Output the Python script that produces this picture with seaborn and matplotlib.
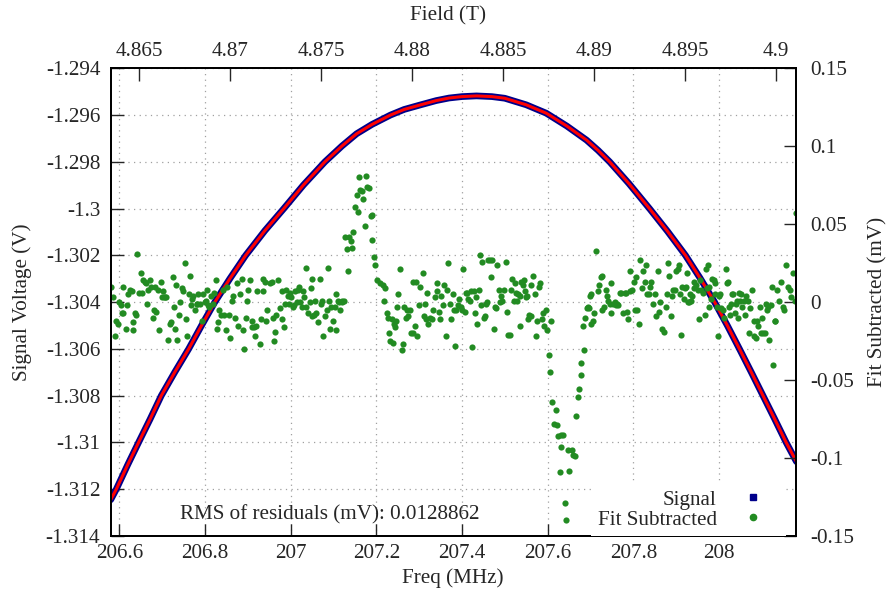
import numpy as np
import pandas as pd
import matplotlib
matplotlib.use('Agg')
import matplotlib.pyplot as plt
from matplotlib.lines import Line2D
from matplotlib.ticker import MultipleLocator, FuncFormatter
import seaborn as sns

# Signal (V) vs frequency (MHz)
signal_freq = [206.580, 206.593, 206.620, 206.645, 206.672, 206.698, 206.730, 206.762,
               206.792, 206.823, 206.858, 206.895, 206.940, 206.984, 207.030, 207.080,
               207.120, 207.154, 207.190, 207.233, 207.265, 207.302, 207.340, 207.370,
               207.400, 207.434, 207.470, 207.500, 207.550, 207.597, 207.645, 207.691,
               207.718, 207.745, 207.790, 207.838, 207.880, 207.922, 207.956, 207.990,
               208.020, 208.048, 208.076, 208.103, 208.130, 208.157, 208.181]
signal_volt = [-1.31245, -1.31200, -1.31094, -1.31000, -1.30900, -1.30800, -1.30698, -1.30600,
               -1.30500, -1.30400, -1.30300, -1.30200, -1.30094, -1.30000, -1.29899, -1.29800,
               -1.29732, -1.29680, -1.29640, -1.29600, -1.29576, -1.29557, -1.29538, -1.29527,
               -1.29521, -1.29518, -1.29521, -1.29528, -1.29556, -1.29592, -1.29647, -1.29707,
               -1.29751, -1.29800, -1.29893, -1.30000, -1.30097, -1.30200, -1.30297, -1.30400,
               -1.30501, -1.30600, -1.30701, -1.30800, -1.30899, -1.31000, -1.31082]

# Residuals (mV), split by region of the sweep
left_freq = [206.580, 206.585, 206.590, 206.592, 206.596, 206.600, 206.603, 206.606, 206.608, 206.609,
             206.616, 206.619, 206.621, 206.625, 206.629, 206.631, 206.633, 206.637, 206.639, 206.642,
             206.647, 206.650, 206.652, 206.656, 206.660, 206.662, 206.665, 206.668, 206.672, 206.673,
             206.678, 206.681, 206.683, 206.686, 206.691, 206.693, 206.697, 206.699, 206.701, 206.704,
             206.707, 206.709, 206.714, 206.718, 206.720, 206.725, 206.728, 206.730, 206.732, 206.735,
             206.739, 206.742, 206.746, 206.748, 206.753, 206.756, 206.759, 206.762, 206.765, 206.767,
             206.769, 206.773, 206.777, 206.781, 206.782, 206.784, 206.788, 206.792, 206.796, 206.800,
             206.802, 206.805, 206.808, 206.810, 206.813, 206.818, 206.821, 206.826, 206.827, 206.831,
             206.833, 206.837, 206.841, 206.844, 206.849, 206.852, 206.855, 206.858, 206.862, 206.866,
             206.870, 206.874, 206.878, 206.882, 206.886, 206.889, 206.891, 206.896, 206.899, 206.901,
             206.905, 206.909, 206.911, 206.914, 206.917, 206.919, 206.922, 206.928, 206.930, 206.935,
             206.936, 206.940, 206.942, 206.945, 206.952, 206.956, 206.958, 206.961, 206.963, 206.967,
             206.971, 206.975, 206.979, 206.981, 206.984, 206.987, 206.990, 206.994, 206.997, 206.998,
             207.000, 207.005, 207.008, 207.010, 207.014, 207.018, 207.020, 207.022, 207.026, 207.028,
             207.031, 207.036, 207.037, 207.041, 207.045, 207.047, 207.049, 207.051, 207.054, 207.057,
             207.060, 207.064, 207.068, 207.072, 207.074, 207.076, 207.080, 207.084, 207.088, 207.090,
             207.093, 207.095, 207.099, 207.103, 207.106, 207.107, 207.111, 207.113, 207.116, 207.119,
             207.121, 207.124]
left_mv = [0.010, 0.003, -0.022, -0.012, -0.014, 0.000, -0.002, -0.007, 0.010, -0.007,
           -0.017, -0.002, 0.005, 0.008, 0.007, -0.018, -0.013, -0.007, -0.008, 0.031,
           0.006, 0.019, 0.006, 0.014, 0.013, 0.012, -0.001, 0.008, 0.014, 0.010,
           -0.010, -0.005, 0.010, -0.006, 0.008, -0.018, 0.013, 0.003, 0.007, 0.003,
           0.003, 0.003, -0.024, -0.014, -0.013, 0.016, -0.003, -0.017, 0.011, -0.024,
           -0.008, 0.000, 0.009, 0.007, 0.025, -0.011, -0.022, 0.005, 0.017, -0.002,
           0.002, 0.004, -0.005, -0.001, -0.001, 0.005, -0.001, -0.012, 0.005, 0.000,
           0.001, 0.008, -0.002, -0.003, 0.004, -0.001, 0.006, 0.014, -0.017, -0.013,
           -0.005, -0.008, 0.008, -0.008, -0.018, 0.010, -0.008, -0.023, 0.001, 0.004,
           -0.010, 0.012, -0.015, 0.005, 0.015, -0.018, -0.030, -0.010, 0.001, 0.008,
           0.014, -0.012, -0.016, -0.016, -0.022, -0.015, 0.007, -0.027, -0.011, 0.015,
           0.007, 0.013, -0.012, -0.005, 0.012, 0.013, -0.010, -0.025, -0.019, -0.008,
           0.014, -0.004, 0.007, -0.011, -0.016, -0.001, 0.008, 0.004, -0.001, 0.006,
           0.003, -0.003, -0.002, 0.007, 0.000, 0.008, 0.010, 0.000, -0.003, 0.007,
           0.003, -0.003, 0.022, -0.007, 0.000, 0.009, 0.015, -0.009, -0.008, 0.001,
           -0.007, -0.013, 0.015, -0.001, 0.001, -0.022, -0.009, -0.005, 0.022, 0.001,
           -0.017, -0.003, -0.012, -0.003, 0.005, -0.018, 0.001, 0.000, -0.005, 0.000,
           0.001, 0.001]

spike_freq = [207.127, 207.131, 207.134, 207.137, 207.141, 207.144, 207.146, 207.150, 207.154, 207.158,
              207.160, 207.163, 207.166, 207.169, 207.173, 207.176, 207.179, 207.183, 207.187, 207.189,
              207.191, 207.195, 207.198, 207.202]
spike_mv = [0.042, 0.034, 0.020, 0.042, 0.039, 0.035, 0.045, 0.061, 0.069, 0.058,
            0.080, 0.072, 0.071, 0.066, 0.049, 0.081, 0.074, 0.073, 0.055, 0.056,
            0.040, 0.029, 0.024, 0.014]

mid_freq = [207.208, 207.215, 207.218, 207.220, 207.224, 207.228, 207.230, 207.232, 207.236, 207.238,
            207.241, 207.243, 207.246, 207.249, 207.251, 207.255, 207.259, 207.263, 207.264, 207.269,
            207.272, 207.274, 207.278, 207.282, 207.285, 207.286, 207.290, 207.292, 207.295, 207.300,
            207.303, 207.308, 207.311, 207.313, 207.317, 207.319, 207.321, 207.325, 207.329, 207.333,
            207.337, 207.341, 207.342, 207.347, 207.348, 207.352, 207.356, 207.358, 207.362, 207.364,
            207.368, 207.372, 207.375, 207.379, 207.381, 207.383, 207.387, 207.391, 207.393, 207.397,
            207.399, 207.403, 207.407, 207.409, 207.412, 207.414, 207.418, 207.422, 207.424, 207.428,
            207.430, 207.434, 207.435, 207.440, 207.442, 207.445, 207.448, 207.451, 207.453, 207.457,
            207.459, 207.461, 207.466, 207.469, 207.471, 207.474, 207.477, 207.480, 207.482, 207.487,
            207.490, 207.492, 207.494, 207.498, 207.502, 207.505, 207.508, 207.512, 207.515, 207.518,
            207.521, 207.523, 207.527, 207.529, 207.531, 207.535, 207.536, 207.539, 207.543, 207.544,
            207.547, 207.549, 207.551, 207.554, 207.557, 207.566,
            207.562, 207.570, 207.580, 207.583, 207.562, 207.575, 207.574, 207.586, 207.589, 207.596,
            207.591, 207.599, 207.609]
mid_mv = [0.012, 0.011, 0.001, 0.009, -0.007, -0.010, -0.020, -0.025, -0.011, -0.026,
          -0.014, -0.016, -0.012, -0.003, 0.005, 0.021, -0.031, -0.027, -0.003, -0.010,
          -0.005, -0.009, -0.005, -0.020, 0.013, -0.020, -0.015, 0.013, -0.022, -0.002,
          0.010, 0.019, -0.009, -0.001, -0.011, 0.006, -0.014, -0.010, -0.011, -0.005,
          0.003, 0.012, 0.007, -0.006, -0.011, 0.004, -0.002, 0.011, -0.022, 0.008,
          0.025, -0.001, -0.011, 0.005, -0.005, -0.028, -0.005, -0.002, 0.002, -0.003,
          -0.005, 0.021, -0.006, 0.006, 0.006, 0.002, 0.001, 0.007, -0.029, 0.007,
          -0.007, 0.003, -0.014, 0.008, 0.030, -0.002, 0.026, -0.010, -0.009, -0.001,
          0.000, 0.027, 0.027, 0.016, 0.027, -0.017, -0.003, -0.004, 0.024, 0.008,
          0.000, 0.004, 0.001, 0.008, 0.026, -0.006, -0.021, -0.021, 0.008, 0.015,
          0.001, 0.012, 0.006, 0.001, 0.005, 0.004, -0.015, 0.013, 0.011, 0.014,
          0.007, 0.003, 0.004, -0.011, -0.008, 0.017,
          0.011, 0.005, 0.010, 0.012, -0.009, -0.012, -0.022, -0.011, -0.007, -0.005,
          -0.015, -0.018, -0.012]

dip_freq = [207.603, 207.605, 207.611, 207.619, 207.614, 207.621, 207.624, 207.632, 207.636, 207.631,
            207.648, 207.656, 207.659, 207.663, 207.628, 207.650, 207.640, 207.644, 207.667, 207.671,
            207.673, 207.679, 207.677, 207.685]
dip_mv = [-0.034, -0.045, -0.064, -0.069, -0.078, -0.079, -0.086, -0.085, -0.085, -0.093,
          -0.095, -0.095, -0.098, -0.099, -0.109, -0.108, -0.129, -0.140, -0.073, -0.061,
          -0.056, -0.047, -0.039, -0.031]

right_freq = [207.683, 207.687, 207.691, 207.694, 207.697, 207.702, 207.706, 207.708, 207.698, 207.702,
              207.718, 207.720, 207.726, 207.731, 207.736, 207.739, 207.741, 207.745, 207.747, 207.749,
              207.753, 207.757, 207.759, 207.762, 207.764, 207.768, 207.772, 207.776, 207.780, 207.782,
              207.785, 207.788, 207.712, 207.725, 207.728,
              207.793, 207.798, 207.801, 207.803, 207.807, 207.809, 207.813, 207.816, 207.821, 207.823,
              207.827, 207.829, 207.832, 207.837, 207.840, 207.842, 207.846, 207.850, 207.854, 207.858,
              207.860, 207.863, 207.868, 207.871, 207.876, 207.879, 207.881, 207.883, 207.887, 207.891,
              207.893, 207.897, 207.900, 207.904, 207.907, 207.792,
              207.910, 207.912, 207.914, 207.918, 207.920, 207.924, 207.925, 207.928, 207.930, 207.933,
              207.935, 207.938, 207.941, 207.943, 207.947, 207.951, 207.953, 207.955, 207.959, 207.963,
              207.967, 207.970, 207.972, 207.974, 207.977, 207.978, 207.982, 207.984, 207.988, 207.990,
              207.992, 207.995, 207.998, 208.000, 208.003, 208.006, 208.009, 208.013, 208.017, 208.019,
              208.021, 208.023, 208.026, 208.029, 208.031, 208.034, 208.037, 208.039, 208.042, 208.044,
              208.047, 208.050, 208.052, 208.054, 208.058, 208.060, 208.064, 208.068, 208.070, 208.073,
              208.078, 208.081, 208.083, 208.086, 208.089, 208.091, 208.095, 208.099, 208.101, 208.104,
              208.107, 208.109, 208.112, 208.114, 208.118, 208.122, 208.124, 208.126, 208.130, 208.132,
              208.135, 208.140, 208.145, 208.149, 208.153, 208.157, 208.161, 208.165, 208.169, 208.173,
              208.177, 208.179]
right_mv = [-0.015, -0.010, -0.004, -0.003, -0.004, -0.014, -0.012, -0.007, 0.004, 0.005,
            0.007, 0.011, -0.005, -0.003, 0.008, 0.004, 0.001, -0.001, -0.007, 0.012,
            -0.001, 0.000, -0.002, -0.001, -0.002, 0.006, 0.006, -0.007, 0.006, 0.006,
            -0.006, -0.011, 0.033, 0.016, 0.017,
            0.007, 0.008, 0.013, -0.005, 0.016, -0.005, -0.014, 0.027, 0.009, 0.020,
            0.013, 0.024, 0.005, 0.005, 0.010, 0.013, -0.001, 0.005, -0.009, 0.020,
            -0.006, 0.000, -0.017, -0.019, -0.003, 0.005, 0.025, 0.017, -0.009, 0.004,
            0.008, 0.008, 0.020, 0.021, 0.024, 0.020,
            0.005, -0.021, 0.010, 0.002, 0.009, 0.010, 0.019, 0.000, 0.000, 0.005,
            0.001, 0.004, 0.009, 0.013, 0.011, 0.008, -0.011, 0.014, 0.008, 0.006,
            -0.008, 0.021, 0.009, 0.024, 0.010, -0.003, 0.002, 0.015, 0.014, 0.005,
            0.012, -0.003, -0.022, 0.004, 0.005, -0.004, -0.005, -0.010, 0.021, 0.012,
            0.013, -0.003, -0.008, -0.001, 0.005, 0.005, -0.007, -0.001, 0.001, -0.010,
            0.006, 0.001, 0.005, -0.003, 0.001, -0.008, 0.004, 0.001, -0.020, -0.004,
            0.008, -0.022, -0.012, -0.023, -0.012, -0.015, -0.003, -0.020, -0.010, -0.020,
            -0.020, -0.001, -0.005, -0.003, -0.024, -0.002, 0.010, -0.040, -0.012, -0.012,
            0.008, 0.001, 0.013, -0.003, -0.005, 0.024, 0.010, 0.008, 0.003, 0.019,
            0.001, 0.057]

freq_range = (206.580, 208.180)
volt_range = (-1.314, -1.294)
resid_range = (-0.15, 0.15)
field_range = (4.86343, 4.90110)
rms_text = "RMS of residuals (mV): 0.0128862"

resid = pd.DataFrame({
    'freq': left_freq + spike_freq + mid_freq + dip_freq + right_freq,
    'mv': left_mv + spike_mv + mid_mv + dip_mv + right_mv,
})
signal = pd.DataFrame({'freq': signal_freq, 'volt': signal_volt})

sns.set_style("ticks")
plt.rcParams['font.family'] = ['Liberation Serif', 'DejaVu Serif']
plt.rcParams['font.size'] = 15.2

navy = '#00008b'
green = '#228b22'

fig = plt.figure(figsize=(8.88, 6.04), dpi=100)
ax = fig.add_axes([0.1247, 0.1126, 0.7717, 0.7743])
ax_r = ax.twinx()
ax_t = ax.twiny()

sns.lineplot(data=signal, x='freq', y='volt', ax=ax, color=navy, linewidth=4.8,
             sort=False, estimator=None, legend=False, solid_joinstyle='round')
sns.lineplot(data=signal, x='freq', y='volt', ax=ax, color='#ff0000', linewidth=2.2,
             sort=False, estimator=None, legend=False, solid_joinstyle='round')
sns.scatterplot(data=resid, x='freq', y='mv', ax=ax_r, color=green, s=20,
                linewidth=0, legend=False)

ax.set_xlim(*freq_range)
ax.set_ylim(*volt_range)
ax_r.set_ylim(*resid_range)
ax_t.set_xlim(*field_range)

fmt = FuncFormatter(lambda v, p: f"{round(v, 6) + 0.0:g}")
ax.xaxis.set_major_locator(MultipleLocator(0.2))
ax.yaxis.set_major_locator(MultipleLocator(0.002))
ax_r.yaxis.set_major_locator(MultipleLocator(0.05))
ax_t.xaxis.set_major_locator(MultipleLocator(0.005))
for a in (ax.xaxis, ax.yaxis, ax_r.yaxis, ax_t.xaxis):
    a.set_major_formatter(fmt)

ax.grid(True, color='#a0a0a0', linestyle=(0, (1, 3.5)), linewidth=0.9)
ax.tick_params(axis='x', direction='in', length=9, width=1, pad=6, top=False)
ax.tick_params(axis='y', direction='in', length=9, width=1, pad=7.5, right=False)
ax_r.tick_params(axis='y', direction='in', length=9, width=1, pad=10.5)
ax_t.tick_params(axis='x', direction='in', length=9, width=1, pad=5)

for a in (ax, ax_r, ax_t):
    a.set_xlabel('')
    a.set_ylabel('')
    for s in a.spines.values():
        s.set_visible(True)
        s.set_color('black')
        s.set_linewidth(1.2)

fig.text(22 / 888, 1 - 302 / 604, 'Signal Voltage (V)', rotation=90, ha='center', va='center')
fig.text(878 / 888, 1 - 302 / 604, 'Fit Subtracted (mV)', rotation=90, ha='center', va='center')
fig.text(453 / 888, 1 - 578 / 604, 'Freq (MHz)', ha='center', va='center')
fig.text(448 / 888, 1 - 16 / 604, 'Field (T)', ha='center', va='center')

ax.text(0.3193, 0.0449, rms_text, transform=ax.transAxes, ha='center', va='center')

handles = [Line2D([], [], marker='s', color=navy, linestyle='none', markersize=4),
           Line2D([], [], marker='o', color=green, linestyle='none', markersize=4.5)]
ax_t.legend(handles, ['Signal', 'Fit Subtracted'], loc='lower right', bbox_to_anchor=(0.986, 0.0),
            markerfirst=False, frameon=True, facecolor='white', edgecolor='none', framealpha=1,
            fancybox=False, handlelength=2.6, handletextpad=0.4, labelspacing=0.0,
            borderpad=0.3, borderaxespad=0)

fig.savefig('out.png', dpi=100)
